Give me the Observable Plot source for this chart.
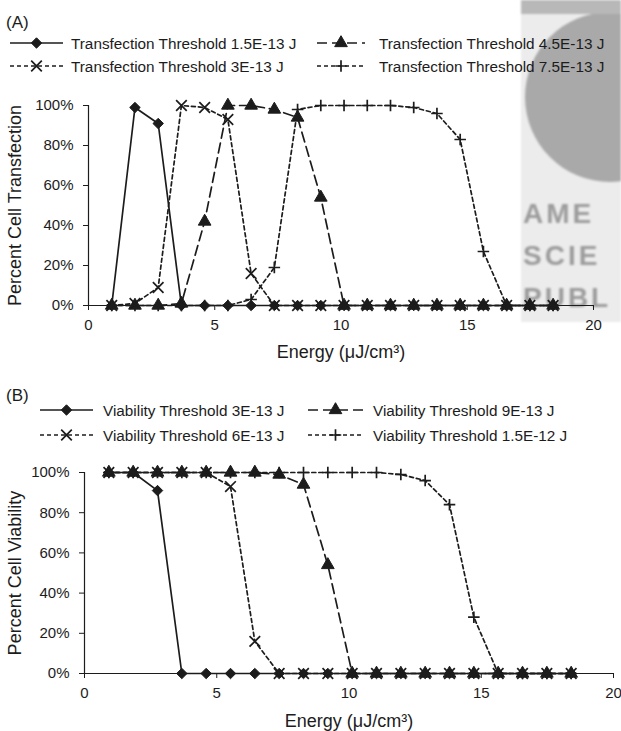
<!DOCTYPE html>
<html>
<head>
<meta charset="utf-8">
<script src="https://cdn.jsdelivr.net/npm/d3@7"></script>
<script src="https://cdn.jsdelivr.net/npm/@observablehq/plot@0.6"></script>
<style>
html,body{margin:0;padding:0;background:#fff;}
#root{position:relative;width:621px;height:731px;overflow:hidden;font-family:"Liberation Sans",Arial,Helvetica,sans-serif;color:#1a1a1a;}
.abs{position:absolute;}
</style>
</head>
<body>
<div id="root"></div>
<script>
// ---------- data ----------
const energy = [0.92,1.84,2.76,3.68,4.6,5.52,6.44,7.36,8.28,9.2,10.12,11.04,11.96,12.88,13.8,14.72,15.64,16.56,17.48,18.4];
const xTicks = [0,5,10,15,20];
const yTicks = [0,0.2,0.4,0.6,0.8,1];
const xLabel = "Energy (μJ/cm³)";

const transfectionNames = ["Transfection Threshold 1.5E-13 J","Transfection Threshold 3E-13 J","Transfection Threshold 4.5E-13 J","Transfection Threshold 7.5E-13 J"];
const transfection15 = [0,99,91,0,0,0,0,0,0,0,0,0,0,0,0,0,0,0,0,0];
const transfection30 = [0,1,9,100,99,93,16,0,0,0,0,0,0,0,0,0,0,0,0,0];
const transfection45 = [0,0,0,1,42,100,100,98,94,54,0,0,0,0,0,0,0,0,0,0];
const transfection75 = [0,0,0,0,0,0,3,19,98,100,100,100,100,99,96,83,27,0,0,0];
const transfectionLabel = "Percent Cell Transfection";

const viabilityNames = ["Viability Threshold 3E-13 J","Viability Threshold 6E-13 J","Viability Threshold 9E-13 J","Viability Threshold 1.5E-12 J"];
const viability30 = [100,100,91,0,0,0,0,0,0,0,0,0,0,0,0,0,0,0,0,0];
const viability60 = [100,100,100,100,100,93,16,0,0,0,0,0,0,0,0,0,0,0,0,0];
const viability90 = [100,100,100,100,100,100,100,99,94,54,0,0,0,0,0,0,0,0,0,0];
const viability150 = [100,100,100,100,100,100,100,100,100,100,100,100,99,96,84,28,0,0,0,0];
const viabilityLabel = "Percent Cell Viability";

const watermarkWords = ["AME","SCIE","PUBL"];

// ---------- styles (kept out of data) ----------
const INK = "#1c1c1c";
const seriesStyle = [
  {symbol:"diamond2", d3sym:d3.symbolDiamond2, dash:null,   fill:INK,   r:4.7, sw:1},
  {symbol:"times",    d3sym:d3.symbolTimes,    dash:"4,3",  fill:"none",r:4.9, sw:1.7},
  {symbol:"triangle", d3sym:d3.symbolTriangle, dash:"10,5", fill:INK,   r:4.7, sw:1},
  {symbol:"plus",     d3sym:d3.symbolPlus,     dash:"4,3",  fill:"none",r:3.8, sw:1.7}
];
const drawOrder = [0,2,1,3];

const root = d3.select("#root");

// ---------- watermark (background, partially visible) ----------
const wm = root.append("div").attr("class","abs")
  .style("left","521px").style("top","0px").style("width","100px").style("height","322px")
  .style("background","#ececec").style("overflow","hidden").style("filter","blur(1.2px)");
wm.append("div").attr("class","abs")
  .style("left","4px").style("top","12px").style("width","170px").style("height","170px")
  .style("border-radius","50%").style("background","#a9a9a9");
wm.append("div").attr("class","abs")
  .style("left","-10px").style("top","0px").style("width","120px").style("height","14px")
  .style("background","#b8b8b8");
watermarkWords.forEach((t,i)=>{
  wm.append("div").attr("class","abs")
    .style("left","2px").style("top",(198+i*42)+"px")
    .style("font","bold 28px 'Liberation Sans',Arial,sans-serif")
    .style("letter-spacing","3px").style("white-space","nowrap").style("color","#9c9c9c").text(t);
});

// ---------- panels ----------
function panel({top, height, mt, mb, ml, mr, series, ylabel, ylabelDx, xlabelDy}) {
  const marks = [
    Plot.axisX({ticks:xTicks, tickSize:5, tickPadding:9, tickFormat:d=>String(d), label:null, stroke:INK, fill:INK}),
    Plot.axisY({ticks:yTicks, tickSize:5, tickPadding:10, tickFormat:d3.format(".0%"), label:null, stroke:INK, fill:INK}),
    Plot.ruleY([0], {stroke:INK, strokeWidth:1.2}),
    Plot.ruleX([0], {stroke:INK, strokeWidth:1.2})
  ];
  const tables = series.map(vals => energy.map((x,j)=>({x, y: vals[j]/100})));
  drawOrder.forEach(i=>{
    const st = seriesStyle[i];
    marks.push(Plot.line(tables[i], {x:"x", y:"y", stroke:INK, strokeWidth:1.7, strokeDasharray:st.dash}));
  });
  drawOrder.forEach(i=>{
    const st = seriesStyle[i];
    marks.push(Plot.dot(tables[i], {x:"x", y:"y", symbol:()=>st.symbol, r:st.r, fill:st.fill, stroke:INK, strokeWidth:st.sw}));
  });
  marks.push(Plot.text([xLabel], {text:d=>d, frameAnchor:"bottom", textAnchor:"middle", lineAnchor:"middle", dy:xlabelDy, fontSize:18, fill:INK}));
  marks.push(Plot.text([ylabel], {text:d=>d, frameAnchor:"left", textAnchor:"middle", lineAnchor:"middle", rotate:-90, dx:ylabelDx, fontSize:18, fill:INK}));
  const svg = Plot.plot({
    width:621, height, marginTop:mt, marginBottom:mb, marginLeft:ml, marginRight:mr,
    x:{domain:[0,20]}, y:{domain:[0,1]},
    style:{fontFamily:"'Liberation Sans',Arial,Helvetica,sans-serif", fontSize:"15px", background:"transparent", overflow:"visible", color:INK},
    marks
  });
  d3.select(svg).style("left","0px").style("top",top+"px").style("position","absolute");
  root.node().appendChild(svg);
}

panel({top:80, height:285, mt:25, mb:60, ml:88, mr:28,
  series:[transfection15, transfection30, transfection45, transfection75],
  ylabel:transfectionLabel, ylabelDx:-73, xlabelDy:47});
panel({top:450, height:281, mt:22, mb:58, ml:84, mr:8,
  series:[viability30, viability60, viability90, viability150],
  ylabel:viabilityLabel, ylabelDx:-69, xlabelDy:48});

// ---------- legends ----------
const leg = root.append("svg").attr("class","abs").attr("width",621).attr("height",731)
  .style("left","0px").style("top","0px").style("font-family","'Liberation Sans',Arial,Helvetica,sans-serif");
const layout = [[0,0],[0,1],[1,0],[1,1]];
function legend(names, letter, letterY, cols, rows) {
  leg.append("text").attr("x",6).attr("y",letterY).attr("font-size",17).attr("fill",INK).text(letter);
  names.forEach((name,i)=>{
    const [c,r] = layout[i];
    const col = cols[c], y = rows[r], st = seriesStyle[i];
    leg.append("line").attr("x1",col.x0).attr("x2",col.x1).attr("y1",y).attr("y2",y)
      .attr("stroke",INK).attr("stroke-width",1.7).attr("stroke-dasharray",st.dash);
    leg.append("path").attr("transform",`translate(${(col.x0+col.x1)/2},${y})`)
      .attr("d", d3.symbol(st.d3sym, st.r*st.r*Math.PI)())
      .attr("fill",st.fill).attr("stroke",INK).attr("stroke-width",st.sw);
    leg.append("text").attr("x",col.tx).attr("y",y).attr("dy","0.36em")
      .attr("font-size",15.3).attr("fill",INK).text(name);
  });
}
legend(transfectionNames, "(A)", 28, [{x0:10,x1:63,tx:71},{x0:317,x1:365,tx:379}], [43,66]);
legend(viabilityNames, "(B)", 401, [{x0:40,x1:93,tx:103},{x0:308,x1:363,tx:373}], [410,435]);
</script>
</body>
</html>
